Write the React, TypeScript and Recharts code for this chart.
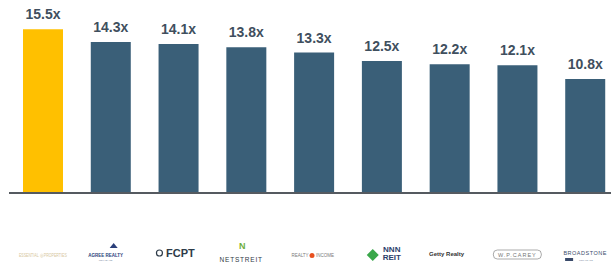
import { Bar, BarChart, Cell, LabelList, XAxis, YAxis } from 'recharts';

const companies = [
	'Essential Properties',
	'Agree Realty',
	'FCPT',
	'NETSTREIT',
	'Realty Income',
	'NNN REIT',
	'Getty Realty',
	'W. P. Carey',
	'Broadstone',
];
const multiples = [15.5, 14.3, 14.1, 13.8, 13.3, 12.5, 12.2, 12.1, 10.8];

const data = companies.map((name, i) => ({ name, multiple: multiples[i] }));

const HIGHLIGHT = '#FFC000';
const BAR = '#3A5F78';

// the logos are drawn as plain text marks
const Logo = ({ x, cy, name }: { x: number; cy: number; name: string }) => {
	switch (name) {
		case 'Essential Properties':
			return (
				<text x={x} y={cy} textAnchor='middle' fontSize={4.5} fill='#d6c69c' textLength={48} lengthAdjust='spacingAndGlyphs'>
					ESSENTIAL ◎ PROPERTIES
				</text>
			);
		case 'Agree Realty':
			return (
				<g>
					<path d={`M${x - 1} ${cy - 9} l4 -5 l4 5 z`} fill='#2a3f7a' />
					<text x={x - 5} y={cy} textAnchor='middle' fontSize={4.5} fontWeight='bold' fill='#2a3f7a'>
						AGREE REALTY
					</text>
					<text x={x - 5} y={cy + 4} textAnchor='middle' fontSize={2.5} fill='#8a93a8'>
						NET LEASE
					</text>
				</g>
			);
		case 'FCPT':
			return (
				<g>
					<circle cx={x - 19} cy={cy - 4} r={3} fill='none' stroke='#2d3b48' strokeWidth={1.2} />
					<text x={x + 2} y={cy} textAnchor='middle' fontSize={11} fontWeight='bold' fill='#2d3b48'>
						FCPT
					</text>
				</g>
			);
		case 'NETSTREIT':
			return (
				<g>
					<text x={x - 4} y={cy - 8} textAnchor='middle' fontSize={9} fontWeight='bold' fill='#6fae3c'>
						N
					</text>
					<text x={x - 5} y={cy + 5} textAnchor='middle' fontSize={6.5} fill='#2f3a45' letterSpacing={0.8}>
						NETSTREIT
					</text>
				</g>
			);
		case 'Realty Income':
			return (
				<g>
					<text x={x - 14} y={cy} textAnchor='middle' fontSize={4.5} fill='#7a7a7a'>
						REALTY
					</text>
					<circle cx={x - 2} cy={cy - 1.5} r={2.5} fill='#e8501e' />
					<text x={x + 11} y={cy} textAnchor='middle' fontSize={4.5} fill='#7a7a7a'>
						INCOME
					</text>
				</g>
			);
		case 'NNN REIT':
			return (
				<g>
					<path d={`M${x - 9} ${cy - 8} l6 6 l-6 6 l-6 -6 z`} fill='#3aa74a' />
					<text x={x + 10} y={cy - 5} textAnchor='middle' fontSize={8} fontWeight='bold' fill='#2c3e6b'>
						NNN
					</text>
					<text x={x + 10} y={cy + 3} textAnchor='middle' fontSize={8} fontWeight='bold' fill='#2c3e6b'>
						REIT
					</text>
				</g>
			);
		case 'Getty Realty':
			return (
				<text x={x - 3} y={cy - 1} textAnchor='middle' fontSize={6} fontWeight='bold' fill='#333'>
					Getty Realty
				</text>
			);
		case 'W. P. Carey':
			return (
				<g>
					<rect x={x - 24} y={cy - 7} width={48} height={9} rx={4} fill='none' stroke='#888' strokeWidth={0.7} />
					<text x={x} y={cy} textAnchor='middle' fontSize={5.5} fill='#777' letterSpacing={1}>
						W.P.CAREY
					</text>
				</g>
			);
		default:
			return (
				<g>
					<text x={x} y={cy - 2} textAnchor='middle' fontSize={5.5} fill='#3a4a6a' letterSpacing={0.5}>
						BROADSTONE
					</text>
					<rect x={x - 20} y={cy + 1} width={8} height={3} fill='#3a4a6a' />
					<text x={x - 6} y={cy + 4} textAnchor='start' fontSize={2.5} fill='#8a93a8'>
						NET LEASE
					</text>
				</g>
			);
	}
};

const LogoTick = (props: any) => {
	const { x, y, payload } = props;
	return (
		<g fontFamily='Arial, Liberation Sans, sans-serif'>
			<Logo x={x} cy={y + 64} name={payload.value} />
		</g>
	);
};

export default function App() {
	return (
		<div style={{ position: 'fixed', left: 0, top: 0, width: 611, height: 271, overflow: 'hidden', background: '#fff' }}>
			<BarChart
				width={619}
				height={271}
				data={data}
				margin={{ top: 24, right: 0, left: 9, bottom: 0 }}
				barSize={40}
			>
				<XAxis
					dataKey='name'
					height={78}
					tickSize={0}
					tickMargin={0}
					interval={0}
					tick={<LogoTick />}
					axisLine={{ stroke: '#555a60', strokeWidth: 2 }}
				/>
				<YAxis hide domain={[0, 16]} />
				<Bar dataKey='multiple' isAnimationActive={false}>
					{data.map((d, i) => (
						<Cell key={d.name} fill={i === 0 ? HIGHLIGHT : BAR} />
					))}
					<LabelList
						dataKey='multiple'
						position='top'
						offset={10}
						formatter={(v: any) => `${Number(v).toFixed(1)}x`}
						style={{ fill: '#3f4f5e', fontSize: 14, fontWeight: 'bold', fontFamily: 'Arial, Liberation Sans, sans-serif' }}
					/>
				</Bar>
			</BarChart>
		</div>
	);
}
